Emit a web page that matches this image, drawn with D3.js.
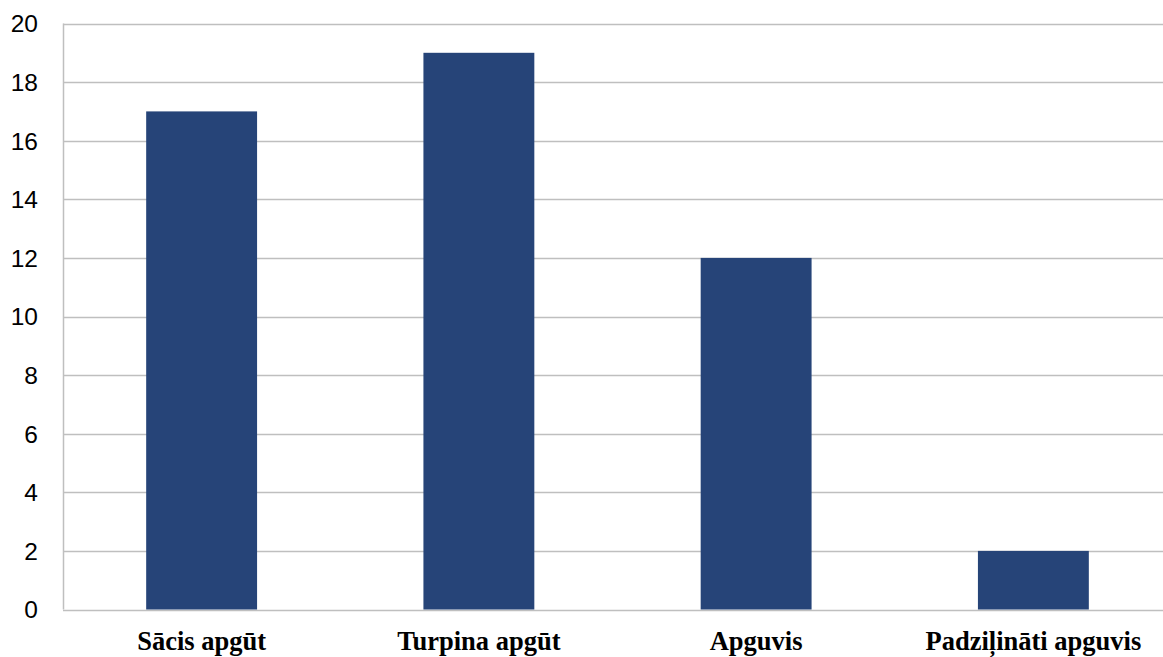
<!DOCTYPE html>
<html>
<head>
<meta charset="utf-8">
<script src="https://cdn.jsdelivr.net/npm/d3@7"></script>
<style>
  html, body { margin: 0; padding: 0; background: #fff; }
  svg { display: block; }
</style>
</head>
<body>
<svg width="1163" height="657"></svg>
<script>
'use strict';
var categories = ['Sācis apgūt', 'Turpina apgūt', 'Apguvis', 'Padziļināti apguvis'];
var values = [17, 19, 12, 2];
var yTicks = [0, 2, 4, 6, 8, 10, 12, 14, 16, 18, 20];

(() => {
  var svg = d3.select('svg');
  var left = 63, right = 1172, top = 23.5, bottom = 609.5;

  var x = d3.scaleBand().domain(categories).range([left, right]).padding(0);
  var y = d3.scaleLinear().domain([0, 20]).range([bottom, top]);
  var barW = x.bandwidth() * 0.4;

  // gridlines
  svg.append('g')
    .selectAll('line').data(yTicks)
    .enter().append('line')
      .attr('x1', left).attr('x2', right)
      .attr('y1', d => Math.round(y(d)) + 0.5)
      .attr('y2', d => Math.round(y(d)) + 0.5)
      .attr('stroke', '#bfbfbf')
      .attr('stroke-width', 1.5);

  // y axis line
  svg.append('line')
    .attr('x1', left + 0.5).attr('x2', left + 0.5)
    .attr('y1', y(20)).attr('y2', y(0))
    .attr('stroke', '#bfbfbf')
    .attr('stroke-width', 1.5);

  // y tick labels
  svg.append('g')
    .selectAll('text').data(yTicks)
    .enter().append('text')
      .attr('x', 38)
      .attr('y', d => y(d))
      .attr('dy', '0.36em')
      .attr('text-anchor', 'end')
      .attr('font-family', '"Liberation Sans", Arial, sans-serif')
      .attr('font-size', 24.5)
      .attr('fill', '#000')
      .text(d => d);

  // bars
  svg.append('g')
    .selectAll('rect').data(values)
    .enter().append('rect')
      .attr('x', (d, i) => x(categories[i]) + (x.bandwidth() - barW) / 2)
      .attr('y', d => y(d))
      .attr('width', barW)
      .attr('height', d => y(0) - y(d))
      .attr('fill', '#264478');

  // category labels
  svg.append('g')
    .selectAll('text').data(categories)
    .enter().append('text')
      .attr('x', d => x(d) + x.bandwidth() / 2)
      .attr('y', 650)
      .attr('text-anchor', 'middle')
      .attr('font-family', '"Liberation Serif", "Times New Roman", serif')
      .attr('font-weight', 'bold')
      .attr('font-size', 26.5)
      .attr('fill', '#000')
      .text(d => d);
})();
</script>
</body>
</html>
